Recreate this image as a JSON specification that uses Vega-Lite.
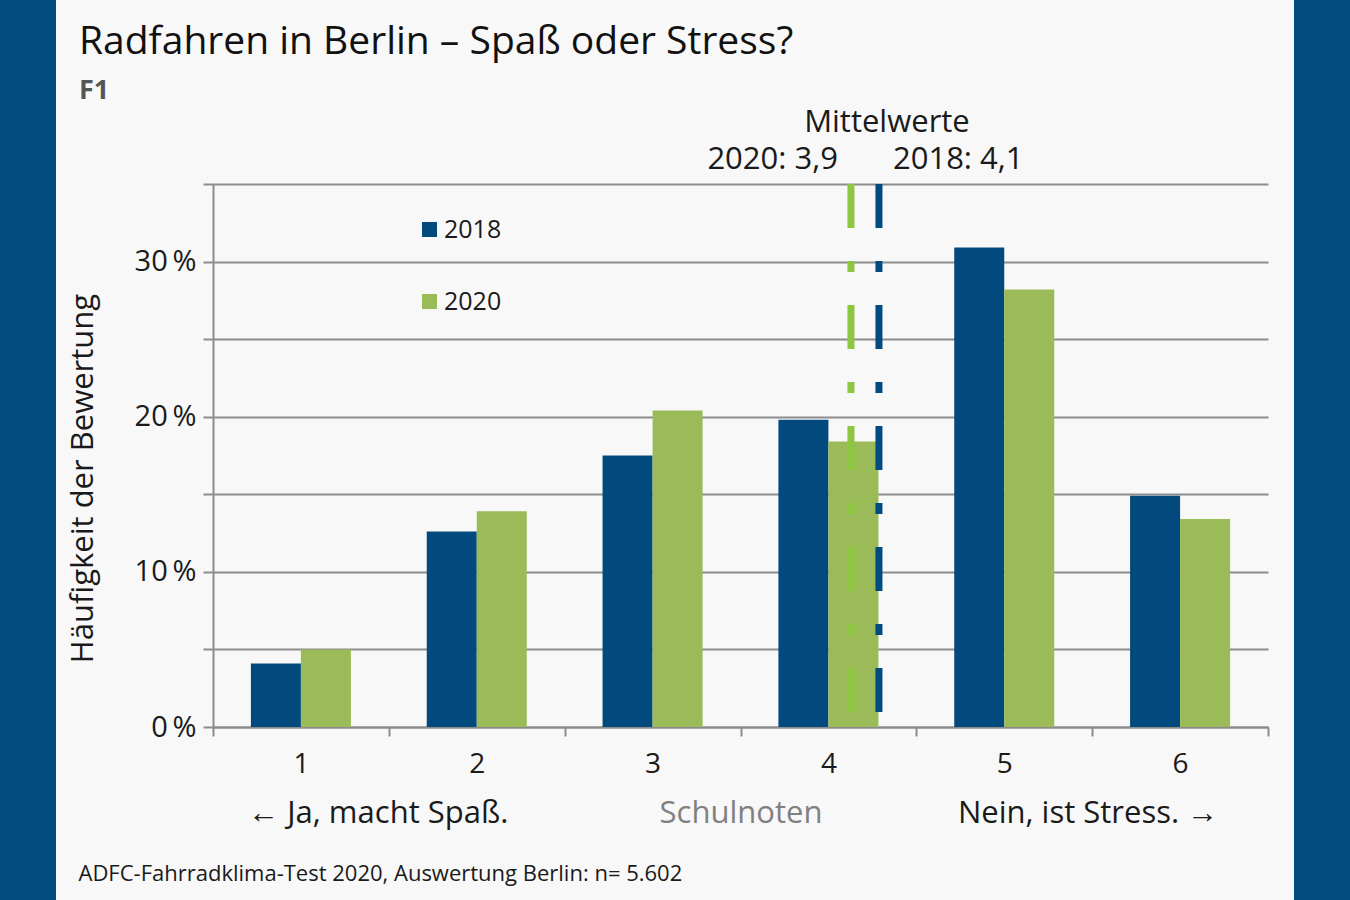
{
  "$schema": "https://vega.github.io/schema/vega-lite/v6.json",
  "background": "#f8f8f8",
  "padding": 0,
  "spacing": 157,
  "bounds": "flush",
  "resolve": {"legend": {"color": "independent", "stroke": "independent"}},
  "datasets": {
    "anteile": [
      {"note": "1", "jahr": "2018", "anteil": 4.1},
      {"note": "1", "jahr": "2020", "anteil": 5.0},
      {"note": "2", "jahr": "2018", "anteil": 12.6},
      {"note": "2", "jahr": "2020", "anteil": 13.9},
      {"note": "3", "jahr": "2018", "anteil": 17.5},
      {"note": "3", "jahr": "2020", "anteil": 20.4},
      {"note": "4", "jahr": "2018", "anteil": 19.8},
      {"note": "4", "jahr": "2020", "anteil": 18.4},
      {"note": "5", "jahr": "2018", "anteil": 30.9},
      {"note": "5", "jahr": "2020", "anteil": 28.2},
      {"note": "6", "jahr": "2018", "anteil": 14.9},
      {"note": "6", "jahr": "2020", "anteil": 13.4}
    ],
    "mittelwerte": [
      {"jahr": "2020", "mittel": 3.9, "label": "2020: 3,9"},
      {"jahr": "2018", "mittel": 4.1, "label": "2018: 4,1"}
    ],
    "leer": []
  },
  "config": {
    "font": "Open Sans",
    "view": {"stroke": null},
    "axis": {
      "labelFont": "Open Sans",
      "titleFont": "Open Sans",
      "domainColor": "#8c8c8c",
      "domainWidth": 2,
      "tickColor": "#8c8c8c",
      "tickWidth": 2,
      "gridColor": "#8c8c8c",
      "gridWidth": 2,
      "labelColor": "#1a1a1a",
      "titleColor": "#1a1a1a",
      "titleFontWeight": "normal"
    },
    "legend": {"labelFont": "Open Sans", "labelColor": "#1a1a1a"},
    "text": {"font": "Open Sans", "color": "#1a1a1a"}
  },
  "hconcat": [
    {
      "width": 56,
      "height": 911,
      "data": {"name": "leer"},
      "mark": "point",
      "view": {"fill": "#024b7e", "stroke": null}
    },
    {
      "spacing": 26,
      "center": true,
      "bounds": "flush",
      "resolve": {"legend": {"color": "independent", "stroke": "independent"}},
      "hconcat": [
        {
          "width": 1055,
          "height": 543,
          "title": {
            "text": "Radfahren in Berlin – Spaß oder Stress?",
            "subtitle": "F1",
            "anchor": "start",
            "frame": "bounds",
            "font": "Open Sans",
            "fontSize": 39,
            "fontWeight": "normal",
            "color": "#111111",
            "subtitleFont": "Open Sans",
            "subtitleFontSize": 27,
            "subtitleFontWeight": "bold",
            "subtitleColor": "#555555",
            "subtitlePadding": 16,
            "offset": 3,
            "dx": 12
          },
          "layer": [
            {
              "data": {"name": "anteile"},
              "mark": {"type": "bar"},
              "encoding": {
                "x": {
                  "field": "note",
                  "type": "nominal",
                  "scale": {"paddingInner": 0, "paddingOuter": 0},
                  "axis": {
                    "title": "Schulnoten",
                    "titleColor": "#808080",
                    "titleFontSize": 31,
                    "titleY": 95,
                    "titleBaseline": "alphabetic",
                    "labelAngle": 0,
                    "labelFontSize": 28,
                    "labelPadding": 14,
                    "tickSize": 9,
                    "tickBand": "extent",
                    "grid": false
                  }
                },
                "xOffset": {"field": "jahr", "type": "nominal", "scale": {"paddingInner": 0, "paddingOuter": 0.758}},
                "y": {
                  "field": "anteil",
                  "type": "quantitative",
                  "scale": {"domain": [0, 35], "nice": false},
                  "axis": {
                    "values": [0, 5, 10, 15, 20, 25, 30, 35],
                    "labelExpr": "datum.value % 10 === 0 ? datum.value + '\u2009%' : ''",
                    "labelFontSize": 29,
                    "tickSize": 10,
                    "labelPadding": 7,
                    "grid": true,
                    "title": "Häufigkeit der Bewertung",
                    "titleFontSize": 31,
                    "titleX": -121,
                    "titleY": 294,
                    "titleAlign": "center",
                    "titleBaseline": "alphabetic"
                  }
                },
                "color": {
                  "field": "jahr",
                  "type": "nominal",
                  "scale": {"domain": ["2018", "2020"], "range": ["#024a7e", "#9bbb59"]},
                  "legend": {
                    "title": null,
                    "orient": "none",
                    "legendX": 204,
                    "legendY": 33,
                    "symbolType": "square",
                    "symbolSize": 225,
                    "symbolStrokeWidth": 0,
                    "labelFontSize": 25,
                    "labelOffset": 2,
                    "rowPadding": 46,
                    "padding": 0
                  }
                }
              }
            },
            {
              "data": {"name": "mittelwerte"},
              "layer": [
                {
                  "mark": {"type": "rule", "strokeWidth": 7, "strokeDash": [44, 33, 11, 33], "strokeCap": "butt"},
                  "encoding": {
                    "x": {
                      "field": "mittel",
                      "type": "quantitative",
                      "scale": {"domain": [-0.657, 6.879], "nice": false, "zero": false},
                      "axis": {
                        "orient": "bottom",
                        "values": [0.52, 5.59],
                        "labelExpr": "datum.value < 3 ? '← Ja, macht Spaß.' : 'Nein, ist Stress. →'",
                        "domain": false,
                        "ticks": false,
                        "tickSize": 0,
                        "grid": false,
                        "labelFontSize": 31,
                        "labelPadding": 95,
                        "labelBaseline": "alphabetic",
                        "labelFlush": false,
                        "labelOverlap": false,
                        "labelLimit": 0,
                        "title": "ADFC-Fahrradklima-Test 2020, Auswertung Berlin: n= 5.602",
                        "titleFontSize": 22,
                        "titleX": -135,
                        "titleY": 153,
                        "titleAlign": "left",
                        "titleAnchor": "start",
                        "titleBaseline": "alphabetic"
                      }
                    },
                    "y": {"datum": 35},
                    "y2": {"datum": 0},
                    "stroke": {
                      "field": "jahr",
                      "type": "nominal",
                      "scale": {"domain": ["2018", "2020"], "range": ["#024b80", "#8dc63f"]},
                      "legend": null
                    }
                  }
                },
                {
                  "transform": [{"filter": "datum.jahr === '2020'"}],
                  "mark": {"type": "text", "align": "right", "baseline": "alphabetic", "dx": -13, "dy": -15, "fontSize": 31},
                  "encoding": {
                    "x": {"field": "mittel", "type": "quantitative"},
                    "y": {"datum": 35},
                    "text": {"field": "label"}
                  }
                },
                {
                  "transform": [{"filter": "datum.jahr === '2018'"}],
                  "mark": {"type": "text", "align": "left", "baseline": "alphabetic", "dx": 14, "dy": -15, "fontSize": 31},
                  "encoding": {
                    "x": {"field": "mittel", "type": "quantitative"},
                    "y": {"datum": 35},
                    "text": {"field": "label"}
                  }
                },
                {
                  "mark": {"type": "text", "align": "center", "baseline": "alphabetic", "dx": 22, "dy": -52, "fontSize": 31},
                  "encoding": {
                    "x": {"aggregate": "mean", "field": "mittel", "type": "quantitative"},
                    "y": {"datum": 35},
                    "text": {"value": "Mittelwerte"}
                  }
                }
              ]
            }
          ],
          "resolve": {"scale": {"x": "independent"}}
        },
        {
          "width": 56,
          "height": 911,
          "data": {"name": "leer"},
          "mark": "point",
          "view": {"fill": "#024b7e", "stroke": null}
        }
      ]
    }
  ]
}
